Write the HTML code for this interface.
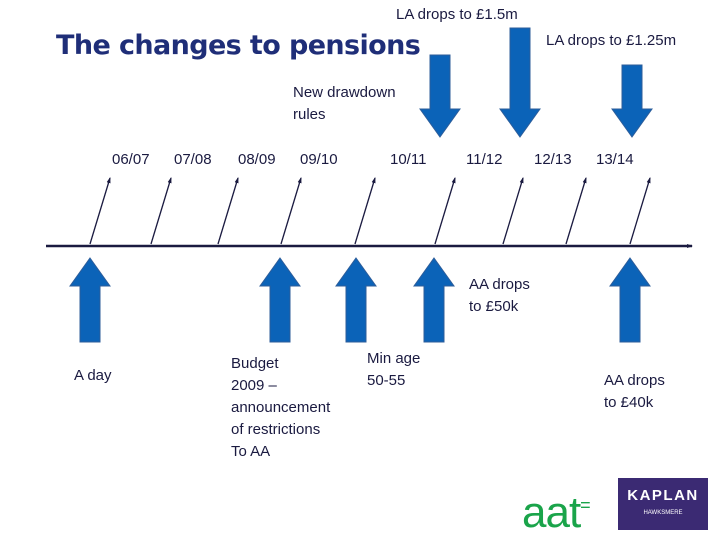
<!DOCTYPE html>
<html><head><meta charset="utf-8"><style>
body{margin:0;width:720px;height:540px;background:#fff;position:relative;overflow:hidden;font-family:"Liberation Sans",Arial,sans-serif;color:#1a1a40}
.t{position:absolute;font-size:15px;line-height:22px;white-space:nowrap}
</style></head><body>
<div class="t" style="left:56px;top:29px;font-size:27px;line-height:34px;font-weight:bold;color:#1f2e78;font-family:'DejaVu Sans',sans-serif;letter-spacing:-0.6px">The changes to pensions</div>
<div class="t" style="left:396px;top:4px">LA drops to £1.5m</div>
<div class="t" style="left:546px;top:30px">LA drops to £1.25m</div>
<div class="t" style="left:293px;top:82px">New drawdown<br>rules</div>
<svg width="720" height="540" style="position:absolute;left:0;top:0">
<defs><marker id="ah" markerUnits="userSpaceOnUse" markerWidth="6" markerHeight="6" refX="5" refY="3" orient="auto"><path d="M0,1L6,3L0,5z" fill="#1a1a40"/></marker></defs>
<line x1="46" y1="246" x2="692" y2="246" stroke="#1a1a40" stroke-width="2.5" marker-end="url(#ah)"/>
<g id="ticks"></g><g id="arrows"></g>
</svg>
<div id="years"></div>
<div class="t" style="left:74px;top:365px">A day</div>
<div class="t" style="left:231px;top:353px">Budget<br>2009 –<br>announcement<br>of restrictions<br>To AA</div>
<div class="t" style="left:367px;top:348px">Min age<br>50-55</div>
<div class="t" style="left:469px;top:274px">AA drops<br>to £50k</div>
<div class="t" style="left:604px;top:370px">AA drops<br>to £40k</div>
<div class="t" style="left:522px;top:480px;font-size:44px;line-height:50px;color:#1aa44a;letter-spacing:-1px">aat<span style="font-size:18px;vertical-align:16px">=</span></div>
<div style="position:absolute;left:618px;top:478px;width:90px;height:52px;background:#3b2a73;color:#fff;text-align:center">
<div style="font-size:15px;font-weight:bold;margin-top:9px;letter-spacing:1.5px">KAPLAN</div>
<div style="font-size:6px;margin-top:6px">HAWKSMERE</div></div>
<script>
const years=["06/07","07/08","08/09","09/10","10/11","11/12","12/13","13/14"];
const yearX=[134,196,260,322,412,488,556,618];
const tickX=[90,151,218,281,355,435,503,566,630];
const upX=[90,280,356,434,630];
const downX=[440,520,632];const downTop=[55,28,65];
const NS="http://www.w3.org/2000/svg";
const tg=document.getElementById('ticks'),ag=document.getElementById('arrows');
tickX.forEach((x,i)=>{const l=document.createElementNS(NS,'line');
l.setAttribute('x1',x);l.setAttribute('y1',244);l.setAttribute('x2',x+20);l.setAttribute('y2',178);
l.setAttribute('stroke','#1a1a40');l.setAttribute('stroke-width','1.3');l.setAttribute('marker-end','url(#ah)');


tg.appendChild(l);});
function arrow(x,yTip,yEnd,up,name){const p=document.createElementNS(NS,'path');
const h=up?28:-28;const yb=yTip+h;
p.setAttribute('d',`M${x},${yTip}L${x+20},${yb}L${x+10},${yb}L${x+10},${yEnd}L${x-10},${yEnd}L${x-10},${yb}L${x-20},${yb}Z`);
p.setAttribute('fill','#0b63b8');p.setAttribute('stroke','#2d5d9a');


ag.appendChild(p);}
upX.forEach(x=>arrow(x,258,342,true,'event-arrow-up'));
downX.forEach((x,i)=>arrow(x,137,downTop[i],false,'event-arrow-down'));
const yd=document.getElementById('years');
years.forEach((y,i)=>{const d=document.createElement('div');d.className='t';
d.style.left=(yearX[i]-22)+'px';d.style.top='149px';d.textContent=y;


yd.appendChild(d);});
</script>
</body></html>
